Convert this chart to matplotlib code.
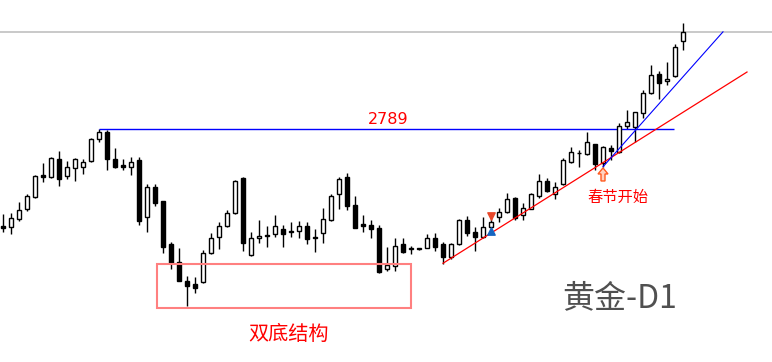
import numpy as np
import matplotlib.pyplot as plt
from matplotlib.patches import Rectangle, Polygon

plt.rcParams['font.family'] = ['Noto Sans CJK SC', 'DejaVu Sans']

# daily gold candles (open, high, low, close)
opens = [2650, 2649, 2660, 2675, 2692, 2723, 2720, 2746, 2722, 2733,
         2735, 2743, 2775, 2785, 2746, 2738, 2735, 2745, 2663, 2706,
         2686, 2625, 2599, 2572, 2567, 2570, 2612, 2635, 2650, 2669,
         2719, 2609, 2633, 2637, 2639, 2646, 2643, 2643, 2650, 2635,
         2640, 2659, 2696, 2720, 2680, 2653, 2652, 2647, 2589, 2593,
         2625, 2617, 2617, 2619, 2633, 2625, 2606, 2625, 2659, 2642,
         2635, 2649, 2663, 2670, 2690, 2666, 2675, 2693, 2715, 2696,
         2710, 2742, 2755, 2753, 2768, 2740, 2762, 2756, 2793, 2792,
         2812, 2841, 2868, 2858, 2865, 2915]
highs = [2668, 2669, 2685, 2696, 2723, 2740, 2749, 2758, 2743, 2748,
         2746, 2776, 2789, 2788, 2762, 2746, 2749, 2749, 2710, 2710,
         2686, 2627, 2619, 2579, 2577, 2616, 2640, 2656, 2673, 2716,
         2720, 2642, 2659, 2650, 2666, 2652, 2656, 2657, 2656, 2646,
         2676, 2696, 2720, 2726, 2693, 2666, 2659, 2652, 2620, 2633,
         2633, 2622, 2618, 2639, 2640, 2627, 2626, 2660, 2665, 2649,
         2663, 2669, 2676, 2698, 2692, 2683, 2698, 2725, 2719, 2713,
         2748, 2763, 2759, 2785, 2768, 2765, 2766, 2798, 2816, 2813,
         2845, 2881, 2872, 2885, 2911, 2941]
lows = [2642, 2639, 2657, 2672, 2691, 2713, 2719, 2708, 2718, 2715,
        2725, 2742, 2770, 2730, 2733, 2730, 2723, 2652, 2642, 2679,
        2612, 2589, 2572, 2536, 2555, 2569, 2610, 2617, 2649, 2668,
        2615, 2607, 2626, 2620, 2635, 2620, 2635, 2633, 2625, 2613,
        2626, 2657, 2675, 2673, 2647, 2642, 2633, 2583, 2586, 2586,
        2612, 2610, 2616, 2619, 2615, 2596, 2603, 2623, 2636, 2615,
        2633, 2640, 2656, 2669, 2659, 2659, 2675, 2690, 2699, 2689,
        2709, 2740, 2735, 2752, 2730, 2735, 2745, 2755, 2789, 2770,
        2805, 2839, 2832, 2852, 2863, 2902]
closes = [2647, 2662, 2673, 2693, 2722, 2720, 2748, 2718, 2735, 2746,
          2742, 2775, 2785, 2746, 2735, 2735, 2742, 2657, 2706, 2683,
          2620, 2597, 2572, 2565, 2562, 2612, 2633, 2650, 2669, 2715,
          2626, 2633, 2636, 2636, 2650, 2639, 2642, 2650, 2632, 2633,
          2660, 2693, 2718, 2679, 2647, 2650, 2646, 2585, 2595, 2622,
          2613, 2617, 2617, 2633, 2620, 2606, 2625, 2659, 2640, 2635,
          2649, 2656, 2670, 2689, 2662, 2676, 2696, 2715, 2700, 2706,
          2745, 2756, 2754, 2770, 2739, 2763, 2758, 2793, 2799, 2813,
          2841, 2866, 2855, 2861, 2906, 2928]

resistance = 2789
last_price = 2928
signal_day = 61       # small buy/sell markers
festival_day = 75     # spring festival arrow

x = np.arange(len(opens))
o = np.array(opens)
h = np.array(highs)
l = np.array(lows)
c = np.array(closes)

fig = plt.figure(figsize=(7.72, 3.62), dpi=100)
ax = fig.add_axes([0, 0, 1, 1])
ax.set_xlim(-0.375, 96.125)
ax.set_ylim(2455.8, 2973.5)
ax.axis('off')

# current price line
ax.axhline(last_price, color='#c0c0c0', lw=1.2, zorder=1)

# candles
ax.vlines(x, l, h, color='black', lw=1, zorder=2)
up = c >= o
body_h = np.maximum(np.abs(c - o), 1.2)
ax.bar(x, body_h, bottom=np.minimum(o, c), width=0.6,
       color=np.where(up, 'white', 'black'), edgecolor='black', lw=1, zorder=3)

# 2789 resistance
top_day = int(np.argmax(h[:20]))
ax.hlines(resistance, top_day, 83.9, color='#0000ff', lw=1, zorder=2)
ax.text(48.1, resistance + 14, '2789', color='red', fontsize=11.5,
        ha='center', va='center', family='DejaVu Sans')

# trend lines
ax.plot([55, 93], [2597, 2870.5], color='red', lw=0.9, zorder=4)
ax.plot([75, 90], [2735, 2928], color='#0000ff', lw=0.8, zorder=4)

# double bottom box
ax.add_patch(Rectangle((19.25, 2533), 51 - 19.25, 2596 - 2533, fill=False,
                       edgecolor='#ff8080', lw=1.5, zorder=5))
ax.text(35.75, 2494.5, '双底结构', color='red', fontsize=14.5,
        ha='center', va='center')

# spring festival arrow + label
fx = festival_day
ax.add_patch(Polygon([(fx, 2733.3), (fx + 0.625, 2724.7), (fx + 0.25, 2724.7),
                      (fx + 0.25, 2714.7), (fx - 0.25, 2714.7),
                      (fx - 0.25, 2724.7), (fx - 0.625, 2724.7)],
                     closed=True, facecolor='#ffd2c0', edgecolor='#ff5a1f',
                     lw=1, zorder=6))
ax.text(76.9, 2691.8, '春节开始', color='red', fontsize=11,
        ha='center', va='center')

# small signal arrows
ax.scatter([signal_day], [h[signal_day] - 5], marker='v', s=28,
           color='#e8482a', zorder=6)
ax.scatter([signal_day], [l[signal_day] + 3], marker='^', s=28,
           color='#1565c0', zorder=6)

ax.text(77.1, 2547, '黄金-D1', color='#505050', fontsize=23,
        ha='center', va='center')

fig.savefig('out.png', dpi=100)
